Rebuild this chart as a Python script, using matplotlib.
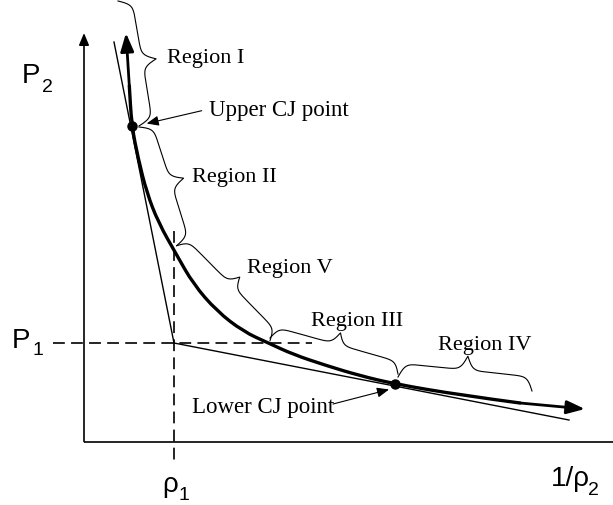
import numpy as np
import matplotlib
matplotlib.use("Agg")
import matplotlib.pyplot as plt
from matplotlib.path import Path
from matplotlib.patches import PathPatch

plt.rcParams["lines.scale_dashes"] = False

# Hugoniot curve (1/rho2, P2), schematic units with the origin at the axis corner
hugoniot_v = [42, 45.3, 47.7, 54.3, 62.7, 74.3, 92.7, 109.3, 132.7, 159.3, 184.3,
              209.3, 242.7, 276, 311, 376, 436, 501]
hugoniot_p = [408.5, 355.8, 315.8, 282.5, 249.2, 219, 186.5, 157.5, 130.5, 110,
              98.5, 87, 75.8, 65.8, 57.5, 46.5, 38.5, 32.5]

# Initial state (1/rho1, P1)
state1 = (90, 98.5)

# Chapman-Jouguet points
upper_cj = (47.7, 315.8)
lower_cj = (311, 57.5)

# Far ends of the two Rayleigh lines drawn from the initial state
rayleigh_upper_end = (30, 399.5)
rayleigh_lower_end = (485, 21.5)

SERIF = "Liberation Serif"
SANS = "Liberation Sans"

fig = plt.figure(figsize=(6.13, 5.06), dpi=100)
ax = fig.add_axes([0, 0, 1, 1])
ax.set_xlim(-84, 529)
ax.set_ylim(-63.5, 442.5)
ax.axis("off")

# Axes with arrow on the pressure axis
ax.plot([0, 529], [0, 0], color="black", lw=1.2, solid_capstyle="butt")
ax.annotate("", xy=(0, 408.5), xytext=(0, 0),
            arrowprops=dict(arrowstyle="-|>,head_length=0.6,head_width=0.25",
                            color="black", lw=1.2, mutation_scale=12,
                            shrinkA=0, shrinkB=0))

# Dashed guide lines through the initial state
ax.plot([-31, 228], [state1[1], state1[1]], color="black", lw=1.2,
        linestyle=(0, (8.5, 4.5)))
ax.plot([state1[0], state1[0]], [210.8, -22.5], color="black", lw=1.2,
        linestyle=(0, (8.5, 4.5)))

# Rayleigh lines
ax.plot([state1[0], rayleigh_upper_end[0]], [state1[1], rayleigh_upper_end[1]],
        color="black", lw=1.0)
ax.plot([state1[0], rayleigh_lower_end[0]], [state1[1], rayleigh_lower_end[1]],
        color="black", lw=1.0)

# Hugoniot curve: smooth quadratic path through the sampled points
pts = np.column_stack([hugoniot_v, hugoniot_p])[1:-1]
verts = [pts[0], (pts[0] + pts[1]) / 2]
codes = [Path.MOVETO, Path.LINETO]
m = len(pts) - 1
for i in range(1, m):
    end = (pts[i] + pts[i + 1]) / 2 if i < m - 1 else pts[m]
    verts += [pts[i], end]
    codes += [Path.CURVE3, Path.CURVE3]
ax.add_patch(PathPatch(Path(verts, codes), fill=False, edgecolor="black",
                       lw=2.4, capstyle="round", joinstyle="round"))

# Arrowheads at both ends of the curve
head = dict(arrowstyle="-|>,head_length=0.55,head_width=0.2", color="black",
            lw=2.0, mutation_scale=20, shrinkA=0, shrinkB=0)
ax.annotate("", xy=(hugoniot_v[0], hugoniot_p[0]),
            xytext=(hugoniot_v[1], hugoniot_p[1]), arrowprops=head)
ax.annotate("", xy=(hugoniot_v[-1], hugoniot_p[-1]),
            xytext=(hugoniot_v[-2], hugoniot_p[-2]), arrowprops=head)

# CJ point markers
ax.plot([upper_cj[0], lower_cj[0]], [upper_cj[1], lower_cj[1]], "o",
        color="black", markersize=6.5, zorder=5)


def draw_brace(p0, p1, width, beta=0.33):
    """Curly brace from p0 to p1 bulging to the left of the p0->p1 direction."""
    p0 = np.asarray(p0, float)
    p1 = np.asarray(p1, float)
    d = p1 - p0
    length = np.hypot(*d)
    u_hat = d / length
    n_hat = np.array([-u_hat[1], u_hat[0]])
    half = length / 2
    s = np.linspace(0, half, 200)
    h = 1 / (1 + np.exp(-beta * s)) + 1 / (1 + np.exp(-beta * (s - half)))
    h = (h - h[0]) / (h[-1] - h[0])
    s_full = np.concatenate([s, length - s[::-1][1:]])
    h_full = np.concatenate([h, h[::-1][1:]])
    curve = p0 + np.outer(s_full, u_hat) + np.outer(h_full * width, n_hat)
    ax.plot(curve[:, 0], curve[:, 1], color="black", lw=0.8)


draw_brace((55, 315.5), (34, 440.5), -28)
draw_brace((92.7, 195.8), (55, 314.5), -27)
draw_brace((186, 100.8), (92.7, 195.8), -23)
draw_brace((314, 67.5), (186, 103.5), -24)
draw_brace((448, 50.5), (314, 64.5), -28)

# Region labels
region_fs = 16
ax.text(83.3, 379.8, "Region I", family=SERIF, fontsize=region_fs, va="baseline")
ax.text(107.7, 260.8, "Region II", family=SERIF, fontsize=region_fs, va="baseline")
ax.text(162.7, 169.2, "Region V", family=SERIF, fontsize=region_fs, va="baseline")
ax.text(227, 116.5, "Region III", family=SERIF, fontsize=region_fs, va="baseline")
ax.text(354.3, 92.5, "Region IV", family=SERIF, fontsize=region_fs, va="baseline")

# CJ point annotations
ax.text(125.3, 326.5, "Upper CJ point", family=SERIF, fontsize=16.5, va="baseline")
ax.annotate("", xy=(62.7, 318), xytext=(117.7, 330.8),
            arrowprops=dict(arrowstyle="-|>,head_length=0.6,head_width=0.25",
                            color="black", lw=0.8, mutation_scale=12,
                            shrinkA=0, shrinkB=0))
ax.text(107.7, 29.5, "Lower CJ point", family=SERIF, fontsize=16.5, va="baseline")
ax.annotate("", xy=(305, 52), xytext=(249, 37.5),
            arrowprops=dict(arrowstyle="-|>,head_length=0.6,head_width=0.25",
                            color="black", lw=0.8, mutation_scale=12,
                            shrinkA=0, shrinkB=0))

# Axis labels with subscripts
main_fs, sub_fs = 20, 14
ax.text(-62, 359.5, "P", family=SANS, fontsize=main_fs, va="baseline")
ax.text(-42, 350.5, "2", family=SANS, fontsize=sub_fs, va="baseline")
ax.text(-72.3, 94.5, "P", family=SANS, fontsize=main_fs, va="baseline")
ax.text(-52, 87.5, "1", family=SANS, fontsize=sub_fs, va="baseline")
ax.text(78, -50, "\u03c1", family=SANS, fontsize=main_fs, va="baseline")
ax.text(94, -57.5, "1", family=SANS, fontsize=sub_fs, va="baseline")
ax.text(466.7, -43.5, "1/\u03c1", family=SANS, fontsize=main_fs, va="baseline")
ax.text(504, -52.5, "2", family=SANS, fontsize=sub_fs, va="baseline")

fig.savefig("out.png", dpi=100)
